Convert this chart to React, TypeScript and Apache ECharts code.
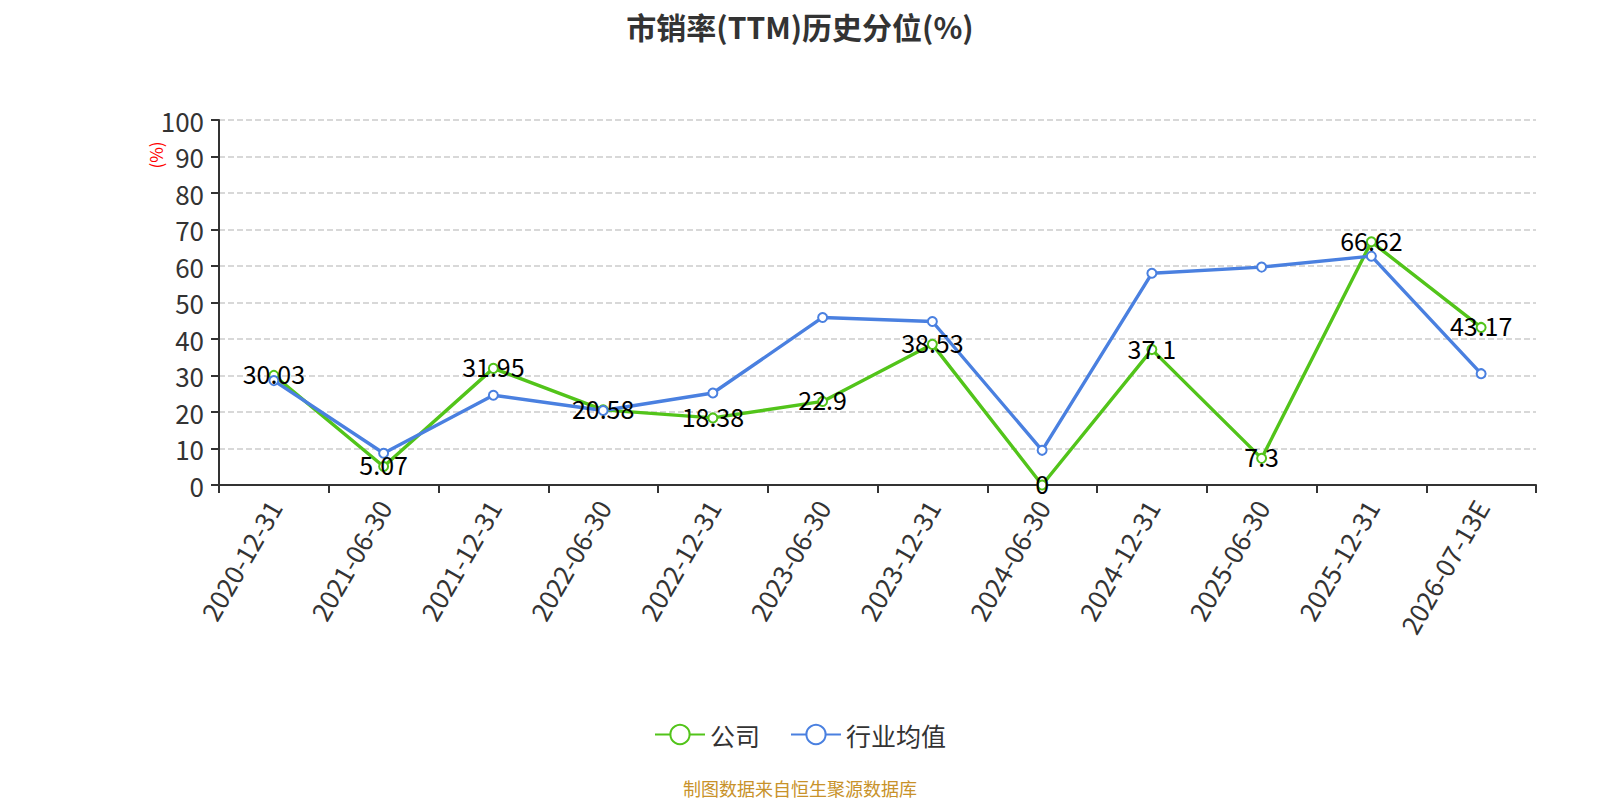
import React, { useEffect, useRef } from "react";
import * as echarts from "echarts";

const categories = [
  "2020-12-31", "2021-06-30", "2021-12-31", "2022-06-30", "2022-12-31", "2023-06-30",
  "2023-12-31", "2024-06-30", "2024-12-31", "2025-06-30", "2025-12-31", "2026-07-13E",
];
const companyValues = [30.03, 5.07, 31.95, 20.58, 18.38, 22.9, 38.53, 0, 37.1, 7.3, 66.62, 43.17];
const industryValues = [28.6, 8.7, 24.6, 20.4, 25.2, 45.9, 44.8, 9.5, 58.0, 59.7, 62.7, 30.5];
const seriesNames = ["公司", "行业均值"];
const titleText = "市销率(TTM)历史分位(%)";
const footerText = "制图数据来自恒生聚源数据库";

const FONT = "'Noto Sans CJK SC', 'Noto Sans', sans-serif";

export default function App() {
  const ref = useRef<HTMLDivElement>(null);
  useEffect(() => {
    if (!ref.current) return;
    const chart = echarts.init(ref.current, null, { renderer: "svg" });
    chart.setOption({
      animation: false,
      textStyle: { fontFamily: FONT },
      title: {
        text: titleText,
        left: "center",
        top: 3,
        padding: 0,
        textStyle: { fontSize: 30, fontWeight: "bold", color: "#333", fontFamily: FONT },
      },
      legend: {
        bottom: 52,
        left: "center",
        itemWidth: 50,
        itemHeight: 24,
        itemGap: 30,
        textStyle: { fontSize: 25, color: "#333", fontFamily: FONT },
        data: seriesNames,
      },
      grid: { left: 211, right: 56, top: 112, bottom: 319, containLabel: false },
      xAxis: {
        type: "category",
        data: categories,
        boundaryGap: true,
        axisLine: { lineStyle: { color: "#333", width: 2 } },
        axisTick: { show: true, length: 8, lineStyle: { color: "#333", width: 2 } },
        axisLabel: { rotate: 60, fontSize: 26, color: "#333", margin: 17, fontFamily: FONT },
      },
      yAxis: {
        type: "value",
        min: 0,
        max: 100,
        interval: 10,
        axisLine: { show: true, lineStyle: { color: "#333", width: 2 } },
        axisTick: { show: true, length: 8, lineStyle: { color: "#333", width: 2 } },
        axisLabel: { fontSize: 26, color: "#333", margin: 15, fontFamily: FONT },
        splitLine: { show: true, lineStyle: { type: "dashed", color: "#ccc", width: 1.5 } },
      },
      graphic: [
        {
          type: "text",
          x: 147,
          y: 147,
          rotation: Math.PI / 2,
          style: {
            text: "(%)",
            fill: "#ff0000",
            fontSize: 17,
            fontFamily: FONT,
            align: "center",
            verticalAlign: "middle",
          },
        },
        {
          type: "text",
          left: "center",
          top: 771,
          style: { text: footerText, fill: "#c8922a", fontSize: 18, fontFamily: FONT },
        },
      ],
      series: [
        {
          name: seriesNames[0],
          type: "line",
          data: companyValues,
          symbol: "emptyCircle",
          symbolSize: 9,
          itemStyle: { color: "#52c41a", borderWidth: 2 },
          lineStyle: { color: "#52c41a", width: 3.4 },
          label: {
            show: true,
            position: "inside",
            offset: [0, -2],
            fontSize: 25,
            color: "#000",
            fontFamily: FONT,
          },
        },
        {
          name: seriesNames[1],
          type: "line",
          data: industryValues,
          symbol: "emptyCircle",
          symbolSize: 9,
          itemStyle: { color: "#4a80e0", borderWidth: 2 },
          lineStyle: { color: "#4a80e0", width: 3.4 },
          label: { show: false },
        },
      ],
    });
    return () => chart.dispose();
  }, []);
  return <div ref={ref} style={{ width: 1584, height: 796 }} />;
}
